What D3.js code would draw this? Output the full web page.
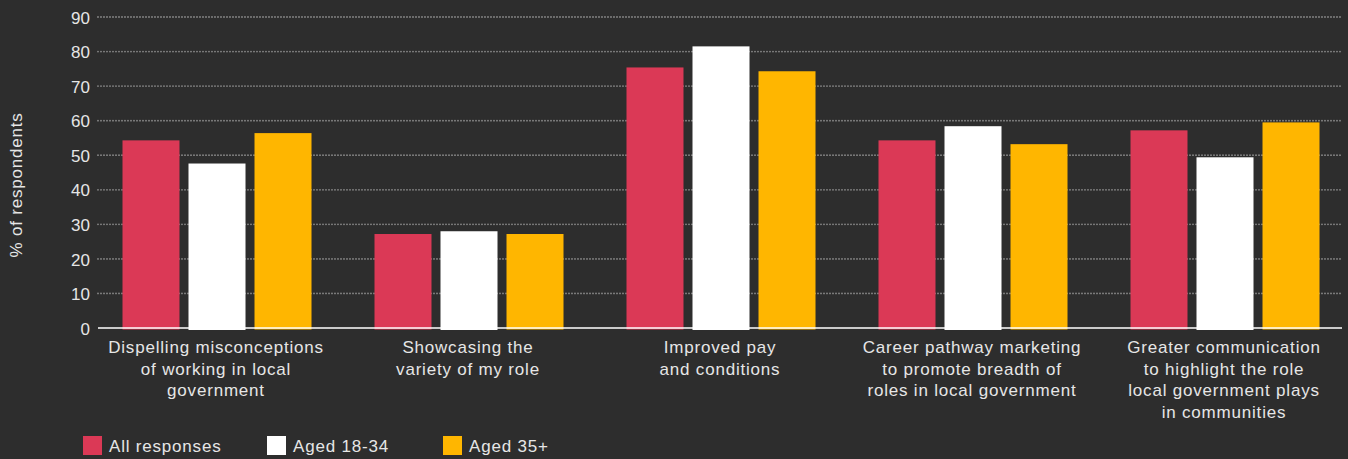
<!DOCTYPE html>
<html>
<head>
<meta charset="utf-8">
<script src="https://cdn.jsdelivr.net/npm/d3@7"></script>
<style>
  html, body { margin: 0; padding: 0; background: #2d2d2d; }
  svg { display: block; }
  text { font-family: "Helvetica Neue", Helvetica, Arial, "Liberation Sans", sans-serif; fill: #e6e6e6; }
  .wide { letter-spacing: 0.8px; }
</style>
</head>
<body>
<svg id="chart" width="1348" height="459"></svg>
<script>
// Categories (multi-line labels) and series values, % of respondents
const categories = [
  ["Dispelling misconceptions", "of working in local", "government"],
  ["Showcasing the", "variety of my role"],
  ["Improved pay", "and conditions"],
  ["Career pathway marketing", "to promote breadth of", "roles in local government"],
  ["Greater communication", "to highlight the role", "local government plays", "in communities"]
];
const seriesNames = ["All responses", "Aged 18-34", "Aged 35+"];
const allResponses = [54.3, 27.2, 75.4, 54.3, 57.2];
const aged18to34   = [47.6, 28.0, 81.5, 58.4, 49.4];
const aged35plus   = [56.4, 27.2, 74.3, 53.2, 59.5];
const yTicks = [0, 10, 20, 30, 40, 50, 60, 70, 80, 90];
const colors = ["#db3956", "#ffffff", "#ffb600"];

const seriesValues = [allResponses, aged18to34, aged35plus];
const catKeys = categories.map(c => c.join(" "));

const svg = d3.select("#chart");
const plot = { left: 98, right: 1342, top: 17, bottom: 328 };

const y = d3.scaleLinear().domain([0, 90]).range([plot.bottom, plot.top]);
const x0 = d3.scaleBand().domain(catKeys).range([91, 1351]).paddingInner(0).paddingOuter(0);
const x1 = d3.scaleBand().domain(seriesNames).range([0, x0.bandwidth()])
  .paddingInner(9 / 66).paddingOuter(0.477);
const color = d3.scaleOrdinal().domain(seriesNames).range(colors);

// Tick labels
const yAxis = d3.axisLeft(y).tickValues(yTicks).tickSize(0).tickPadding(0);
const gy = svg.append("g").attr("transform", `translate(${plot.left - 8},0)`).call(yAxis);
gy.select(".domain").remove();
gy.selectAll("text").style("font-size", "17px").attr("fill", "#e6e6e6").attr("dy", "0.36em");

// Dotted gridlines
svg.append("g").selectAll("line")
  .data(yTicks.filter(t => t > 0))
  .join("line")
  .attr("x1", plot.left).attr("x2", plot.right)
  .attr("y1", d => y(d)).attr("y2", d => y(d))
  .attr("stroke", "#8a8a8a")
  .attr("stroke-width", 1.8)
  .attr("stroke-linecap", "round")
  .attr("stroke-dasharray", "0,3");

// Bars
const groups = svg.append("g").selectAll("g")
  .data(catKeys)
  .join("g")
  .attr("transform", d => `translate(${x0(d)},0)`);

groups.selectAll("rect")
  .data((d, i) => seriesNames.map((s, j) => ({ series: s, value: seriesValues[j][i] })))
  .join("rect")
  .attr("x", d => x1(d.series))
  .attr("width", x1.bandwidth())
  .attr("y", d => y(d.value))
  .attr("height", d => y(0) - y(d.value) + (d.series === "Aged 18-34" ? 2 : 1.5))
  .attr("fill", d => color(d.series));

// Baseline
svg.append("line")
  .attr("x1", plot.left).attr("x2", plot.right)
  .attr("y1", y(0)).attr("y2", y(0))
  .attr("stroke", "#ffffff").attr("stroke-width", 1.6);

// Category labels
const xl = svg.append("g").selectAll("text")
  .data(categories)
  .join("text")
  .attr("class", "wide")
  .attr("text-anchor", "middle")
  .attr("x", (d, i) => x0(catKeys[i]) + x0.bandwidth() / 2 - 1)
  .attr("y", 353)
  .style("font-size", "17px");
xl.selectAll("tspan")
  .data(d => d)
  .join("tspan")
  .attr("x", function () { return d3.select(this.parentNode).attr("x"); })
  .attr("dy", (d, i) => i === 0 ? 0 : 21.7)
  .text(d => d);

// Y axis title
svg.append("text")
  .attr("class", "wide")
  .attr("transform", `translate(22,185) rotate(-90)`)
  .attr("text-anchor", "middle")
  .style("font-size", "17px")
  .text("% of respondents");

// Legend
const legendX = [83, 267, 443];
const legend = svg.append("g").selectAll("g")
  .data(seriesNames)
  .join("g")
  .attr("transform", (d, i) => `translate(${legendX[i]},436)`);
legend.append("rect").attr("width", 19).attr("height", 19).attr("fill", d => color(d));
legend.append("text").attr("class", "wide").attr("x", 26).attr("y", 15.5).style("font-size", "17px").text(d => d);
</script>
</body>
</html>
